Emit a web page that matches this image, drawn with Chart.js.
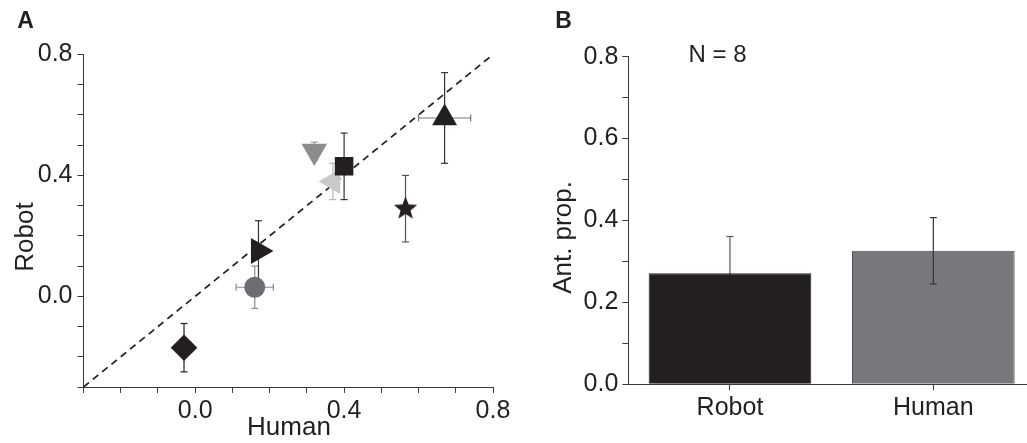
<!DOCTYPE html>
<html><head><meta charset="utf-8">
<script src="https://cdn.jsdelivr.net/npm/chart.js@4.4.1/dist/chart.umd.min.js"></script>
<style>
html,body{margin:0;padding:0;background:#fff;overflow:hidden;width:1027px;height:443px;}
#a{position:absolute;left:0;top:0;width:520px;height:443px;}
#b{position:absolute;left:520px;top:0;width:520px;height:443px;}
</style></head><body>
<div id="a"><canvas id="ca"></canvas></div>
<div id="b"><canvas id="cb"></canvas></div>
<script>
// ---------- DATA ----------
const humanMeans = [-0.03, 0.16, 0.17, 0.32, 0.37, 0.40, 0.565, 0.67];
const robotMeans = [-0.17, 0.03, 0.15, 0.48, 0.38, 0.43, 0.29, 0.59];
const humanErr   = [0, 0.05, 0, 0, 0.01, 0, 0, 0.07];
const robotErr   = [0.08, 0.07, 0.10, 0.03, 0.06, 0.11, 0.11, 0.15];
const identityLine = [-0.3, 0.8];
const scatterTicks = [0.0, 0.4, 0.8];
const barCategories = ['Robot', 'Human'];
const barMeans = [0.271, 0.326];
const barErr = [0.09, 0.081];
const barTicks = [0.0, 0.2, 0.4, 0.6, 0.8];
const sampleLabel = 'N = 8';
const titles = {scatterX:'Human', scatterY:'Robot', barY:'Ant. prop.'};

// ---------- STYLES ----------
const FONT = "'Liberation Sans', Arial, Helvetica, sans-serif";
const INK = '#231f20';
const AXIS = '#3a3a3a';
function makeStar(R, color){
  const s = Math.ceil(R*2)+2;
  const c = document.createElement('canvas'); c.width = s; c.height = s;
  const g = c.getContext('2d'); g.fillStyle = color; g.beginPath();
  for(let i=0;i<10;i++){
    const r = i%2===0 ? R : R*0.43;
    const a = -Math.PI/2 + i*Math.PI/5;
    g.lineTo(s/2 + r*Math.cos(a), s/2 + r*Math.sin(a));
  }
  g.closePath(); g.fill();
  return c;
}
const STAR = makeStar(12.3, INK);
const markerShapes   = ['rectRot','circle','triangle','triangle','triangle','rect', STAR,'triangle'];
const markerRotation = [0, 0, 90, 180, 270, 0, 0, 0];
const markerRadius   = [13.3, 10.5, 15, 14.8, 14.4, 13.1, 12, 14.4];
const markerColors   = [INK, '#6d6e71', INK, '#8b8c8e', '#c8c9cb', INK, INK, INK];
const errColorY      = [INK, '#8a8a8a', '#333', '#999', '#b5b5b5', '#333', '#555', '#333'];
const errColorX      = [INK, '#8a8a8a', '#333', '#999', '#c0c0c0', '#333', '#555', '#777'];
const barFill   = [INK, '#77787b'];
const barBorder = [INK, '#505153'];
const barErrUpper = ['#555', '#333'];
const barErrLower = [INK, '#333'];
const CAP = 3.5;

function seg(ctx,x1,y1,x2,y2){ctx.beginPath();ctx.moveTo(x1,y1);ctx.lineTo(x2,y2);ctx.stroke();}

const isLabelTick = (v, list) => { const r = Math.round(v*10)/10; return list.some(t => Math.abs(t-r) < 1e-9); };

// ---------- PANEL A ----------
const scatterPlugin = {
  id:'scatterExtras',
  beforeDatasetDraw(chart, args){
    if(args.index !== 1) return;
    const xs = chart.scales.x, ys = chart.scales.y, ctx = chart.ctx;
    ctx.save(); ctx.lineWidth = 1.2;
    humanMeans.forEach((hx,i)=>{
      const px = xs.getPixelForValue(hx), py = ys.getPixelForValue(robotMeans[i]);
      if(robotErr[i] > 0){
        const t = ys.getPixelForValue(robotMeans[i]+robotErr[i]);
        const b = ys.getPixelForValue(robotMeans[i]-robotErr[i]);
        ctx.strokeStyle = errColorY[i];
        seg(ctx,px,t,px,b); seg(ctx,px-CAP,t,px+CAP,t); seg(ctx,px-CAP,b,px+CAP,b);
      }
      if(humanErr[i] > 0){
        const l = xs.getPixelForValue(hx-humanErr[i]);
        const r = xs.getPixelForValue(hx+humanErr[i]);
        ctx.strokeStyle = errColorX[i];
        seg(ctx,l,py,r,py); seg(ctx,l,py-CAP,l,py+CAP); seg(ctx,r,py-CAP,r,py+CAP);
      }
    });
    ctx.restore();
  },
  afterDraw(chart){
    const ctx = chart.ctx; ctx.save(); ctx.fillStyle = INK;
    ctx.font = 'bold 23px ' + FONT; ctx.textAlign='center'; ctx.textBaseline='alphabetic';
    ctx.fillText('A', 25.5, 28);
    ctx.font = '26px ' + FONT;
    ctx.fillText(titles.scatterX, 289, 435);
    ctx.translate(32.5, 237); ctx.rotate(-Math.PI/2);
    ctx.fillText(titles.scatterY, 0, 0);
    ctx.restore();
  }
};

const linAxis = (pos) => ({
  type:'linear', position:pos, min:-0.3, max:0.8,
  border:{display:true, color:AXIS, width:1},
  grid:{drawOnChartArea:false, drawTicks:true, tickLength:6, color:AXIS},
  ticks:{stepSize:0.1, autoSkip:false, maxTicksLimit:30, maxRotation:0, minRotation:0,
    color:INK, padding: pos==='bottom'?3:5,
    font:{family:FONT, size:25},
    callback:(v)=> isLabelTick(v, scatterTicks) ? (Math.round(v*10)/10).toFixed(1) : ''},
  afterFit:(s)=>{ if(pos==='bottom') s.height = 56; else s.width = 83.5; }
});

new Chart(document.getElementById('ca'), {
  data:{datasets:[
    {type:'line', order:2, data: identityLine.map(v=>({x:v,y:v})),
     borderColor:INK, borderWidth:1.7, borderDash:[7,5], pointRadius:0, fill:false},
    {type:'scatter', order:1, data: humanMeans.map((h,i)=>({x:h, y:robotMeans[i]})),
     pointStyle: c => markerShapes[c.dataIndex],
     rotation: c => markerRotation[c.dataIndex],
     radius: c => markerRadius[c.dataIndex],
     backgroundColor: c => markerColors[c.dataIndex],
     borderColor: c => markerColors[c.dataIndex],
     borderWidth: 0}
  ]},
  options:{
    responsive:true, maintainAspectRatio:false, animation:false, events:[],
    layout:{padding:{top:54.5, right:27, left:0, bottom:0}},
    plugins:{legend:{display:false}, tooltip:{enabled:false}},
    scales:{ x: linAxis('bottom'), y: linAxis('left') }
  },
  plugins:[scatterPlugin]
});

// ---------- PANEL B ----------
const barPlugin = {
  id:'barExtras',
  afterDatasetsDraw(chart){
    const xs = chart.scales.x, ys = chart.scales.y, ctx = chart.ctx;
    ctx.save(); ctx.lineWidth = 1.2;
    barMeans.forEach((m,i)=>{
      const px = xs.getPixelForValue(i);
      const c = ys.getPixelForValue(m);
      const t = ys.getPixelForValue(m+barErr[i]), b = ys.getPixelForValue(m-barErr[i]);
      ctx.strokeStyle = barErrUpper[i];
      seg(ctx,px,t,px,c); seg(ctx,px-CAP,t,px+CAP,t);
      ctx.strokeStyle = barErrLower[i];
      seg(ctx,px,c,px,b); seg(ctx,px-CAP,b,px+CAP,b);
    });
    ctx.restore();
  },
  afterDraw(chart){
    const ctx = chart.ctx; ctx.save(); ctx.fillStyle = INK;
    ctx.font = 'bold 23px ' + FONT; ctx.textAlign='center'; ctx.textBaseline='alphabetic';
    ctx.fillText('B', 43.5, 28);
    ctx.font = '24px ' + FONT; ctx.textBaseline='middle';
    ctx.fillText(sampleLabel, 197.5, 55);
    ctx.textBaseline='alphabetic';
    ctx.font = '26px ' + FONT;
    ctx.translate(50.5, 237.5); ctx.rotate(-Math.PI/2);
    ctx.fillText(titles.barY, 0, 0);
    ctx.restore();
  }
};

new Chart(document.getElementById('cb'), {
  type:'bar',
  data:{labels: barCategories, datasets:[{
    data: barMeans, backgroundColor: barFill, borderColor: barBorder, borderWidth: 1,
    barPercentage:0.8, categoryPercentage:1.0
  }]},
  options:{
    responsive:true, maintainAspectRatio:false, animation:false, events:[],
    layout:{padding:{top:56.7, right:5, left:0, bottom:0}},
    plugins:{legend:{display:false}, tooltip:{enabled:false}},
    scales:{
      x:{type:'category', offset:true,
        border:{display:true, color:AXIS, width:1},
        grid:{offset:false, drawOnChartArea:false, drawTicks:true, tickLength:6, color:AXIS},
        ticks:{color:INK, padding:3, maxRotation:0, minRotation:0, font:{family:FONT, size:25}},
        afterFit:(s)=>{ s.height = 58.7; }},
      y:{type:'linear', min:0, max:0.8,
        border:{display:true, color:AXIS, width:1},
        grid:{drawOnChartArea:false, drawTicks:true, tickLength:6, color:AXIS},
        ticks:{stepSize:0.1, autoSkip:false, maxTicksLimit:30, color:INK, padding:4,
          font:{family:FONT, size:25},
          callback:(v)=> isLabelTick(v, barTicks) ? (Math.round(v*10)/10).toFixed(1) : ''},
        afterFit:(s)=>{ s.width = 108.3; }}
    }
  },
  plugins:[barPlugin]
});
</script>
</body></html>
